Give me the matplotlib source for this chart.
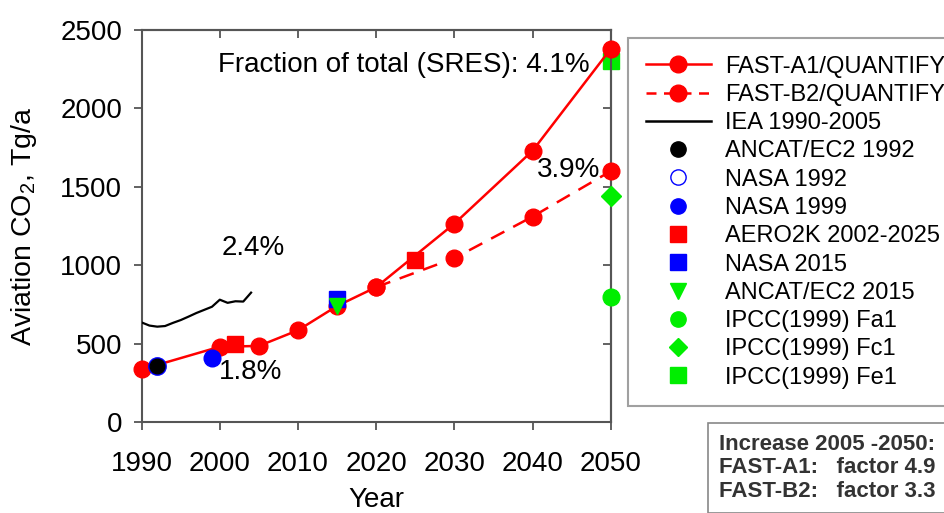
import matplotlib
matplotlib.use("Agg")
import matplotlib.pyplot as plt
from matplotlib.lines import Line2D

plt.rcParams['font.family'] = ['Liberation Sans', 'DejaVu Sans']
plt.rcParams['mathtext.default'] = 'regular'

# --- data ---
a1_years = [1990, 2000, 2005, 2010, 2015, 2020, 2030, 2040, 2050]
a1_vals = [335, 480, 485, 585, 740, 860, 1265, 1730, 2380]

b2_years = [2020, 2030, 2040, 2050]
b2_vals = [860, 1045, 1310, 1600]

iea_years = [1990, 1991, 1992, 1993, 1994, 1995, 1996, 1997, 1998, 1999,
             2000, 2001, 2002, 2003, 2004]
iea_vals = [635, 615, 608, 612, 632, 650, 672, 695, 715, 735,
            780, 760, 770, 768, 825]

ancat92_year, ancat92_val = 1992, 360
nasa92_year, nasa92_val = 1992, 360
nasa99_year, nasa99_val = 1999, 410
aero2k_years = [2002, 2025]
aero2k_vals = [495, 1030]
nasa15_year, nasa15_val = 2015, 785
ancat15_year, ancat15_val = 2015, 740
fa1_year, fa1_val = 2050, 800
fc1_year, fc1_val = 2050, 1440
fe1_year, fe1_val = 2050, 2300

x_ticks = [1990, 2000, 2010, 2020, 2030, 2040, 2050]
y_ticks = [0, 500, 1000, 1500, 2000, 2500]

RED = '#FF0000'
BLUE = '#0000FF'
GREEN = '#00EE00'
SPINE = '#555555'

fig = plt.figure(figsize=(9.44, 5.13), dpi=100, facecolor='white')
ax = fig.add_axes([0.150, 0.1774, 0.497, 0.7641])

ms = 12
ax.plot(a1_years, a1_vals, color=RED, lw=1.8, marker='o', ms=ms, zorder=3, clip_on=False)
ax.plot(b2_years, b2_vals, color=RED, lw=1.8, ls=(0, (6, 4)), marker='o', ms=ms, zorder=3, clip_on=False)
ax.plot(iea_years, iea_vals, color='black', lw=1.6, zorder=3)

ax.plot(nasa92_year, nasa92_val, 'o', ms=ms, mfc='white', mec=BLUE, mew=1.5, zorder=4)
ax.plot(ancat92_year, ancat92_val, 'o', ms=ms - 1.5, color='black', zorder=5)
ax.plot(nasa99_year, nasa99_val, 'o', ms=ms, color=BLUE, zorder=4)
ax.plot(aero2k_years, aero2k_vals, 's', ms=ms - 1, color=RED, ls='none', zorder=4)
ax.plot(nasa15_year, nasa15_val, 's', ms=ms - 1, color=BLUE, zorder=4)
ax.plot(ancat15_year, ancat15_val, 'v', ms=ms - 1, color=GREEN, zorder=5)
ax.plot(fa1_year, fa1_val, 'o', ms=ms, color=GREEN, zorder=4, clip_on=False)
ax.plot(fc1_year, fc1_val, 'D', ms=ms - 2, color=GREEN, zorder=4, clip_on=False)
ax.plot(fe1_year, fe1_val, 's', ms=ms - 1, color=GREEN, zorder=2, clip_on=False)

ax.set_xlim(1990, 2050)
ax.set_ylim(0, 2500)
ax.set_xticks(x_ticks)
ax.set_yticks(y_ticks)
ax.tick_params(axis='both', labelsize=20, length=6, width=1.3, color=SPINE, direction='out')
ax.tick_params(axis='x', pad=15)
ax.tick_params(axis='y', pad=8)

# top / right ticks point inward, no labels
top = ax.secondary_xaxis('top')
top.set_xticks(x_ticks[1:-1])
top.tick_params(direction='in', length=6, width=1.3, color=SPINE, labeltop=False)
right = ax.secondary_yaxis('right')
right.set_yticks(y_ticks[1:-1])
right.tick_params(direction='in', length=6, width=1.3, color=SPINE, labelright=False)

for a in (ax, top, right):
    for s in a.spines.values():
        s.set_color(SPINE)
        s.set_linewidth(1.5)

ax.set_xlabel('Year', fontsize=20, labelpad=7)
ax.set_ylabel('Aviation CO$_2$, Tg/a', fontsize=20.5, labelpad=15)

ax.text(2047.3, 2277, 'Fraction of total (SRES): 4.1%', fontsize=20, ha='right', va='center')
ax.text(2048.6, 1610, '3.9%', fontsize=20, ha='right', va='center')
ax.text(2000.2, 1110, '2.4%', fontsize=20, ha='left', va='center')
ax.text(1999.9, 319, '1.8%', fontsize=20, ha='left', va='center')

handles = [
    Line2D([0], [0], color=RED, lw=1.8, marker='o', ms=ms, label='FAST-A1/QUANTIFY'),
    Line2D([0], [0], color=RED, lw=1.8, ls=(0, (4, 3)), marker='o', ms=ms, label='FAST-B2/QUANTIFY'),
    Line2D([0], [0], color='black', lw=1.8, label='IEA 1990-2005'),
    Line2D([0], [0], ls='none', marker='o', ms=ms - 1, color='black', label='ANCAT/EC2 1992'),
    Line2D([0], [0], ls='none', marker='o', ms=ms - 1, mfc='white', mec=BLUE, label='NASA 1992'),
    Line2D([0], [0], ls='none', marker='o', ms=ms - 1, color=BLUE, label='NASA 1999'),
    Line2D([0], [0], ls='none', marker='s', ms=ms - 1, color=RED, label='AERO2K 2002-2025'),
    Line2D([0], [0], ls='none', marker='s', ms=ms - 1, color=BLUE, label='NASA 2015'),
    Line2D([0], [0], ls='none', marker='v', ms=ms - 1, color=GREEN, label='ANCAT/EC2 2015'),
    Line2D([0], [0], ls='none', marker='o', ms=ms - 1, color=GREEN, label='IPCC(1999) Fa1'),
    Line2D([0], [0], ls='none', marker='D', ms=ms - 3, color=GREEN, label='IPCC(1999) Fc1'),
    Line2D([0], [0], ls='none', marker='s', ms=ms - 1, color=GREEN, label='IPCC(1999) Fe1'),
]
leg = fig.legend(handles=handles, loc='upper left', bbox_to_anchor=(628 / 944, 1 - 38 / 513),
                 fontsize=17, frameon=True, fancybox=False, edgecolor='#888888',
                 handlelength=2.75, handletextpad=0.6, labelspacing=0.265, borderpad=0.75,
                 borderaxespad=0)
leg.get_frame().set_linewidth(1.5)

fig.text(719 / 944, 1 - 434 / 513,
         'Increase 2005 -2050:\nFAST-A1:   factor 4.9\nFAST-B2:   factor 3.3',
         fontsize=16, fontweight='bold', color='#333333', ha='left', va='top',
         linespacing=1.15, bbox=dict(boxstyle='square,pad=0.5', fc='white', ec='#888888', lw=1.2))

fig.savefig('out.png', dpi=100)
